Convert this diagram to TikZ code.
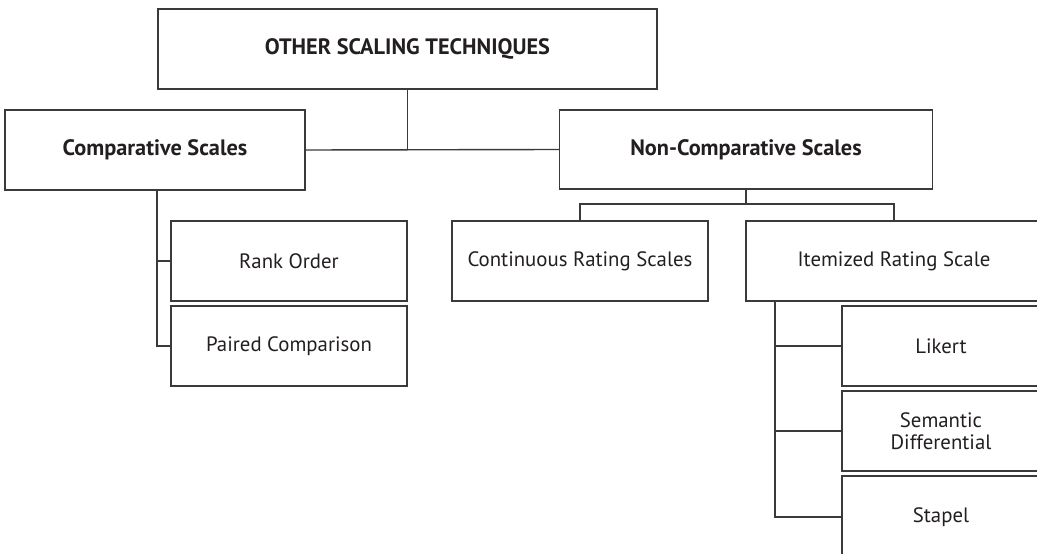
\documentclass[tikz,border=0pt]{standalone}
\usepackage{fontspec}
\setmainfont{PT Sans}
\definecolor{ink}{HTML}{231F20}
\definecolor{edge}{HTML}{3A3A3A}
\begin{document}
\begin{tikzpicture}[x=1pt,y=-1pt,
  box/.style={draw=edge, line width=1.4pt, rectangle, inner sep=0pt, text=ink,
    font=\fontsize{20.8}{22}\selectfont, align=center, minimum height=80pt},
  bbox/.style={box, font=\fontsize{22.3}{24}\selectfont\bfseries},
  link/.style={draw=edge, line width=1.4pt}]
\useasboundingbox (0,0) rectangle (1037,554);
\node[bbox, minimum width=499pt] (top) at (407.5,49) {OTHER SCALING TECHNIQUES};
\node[bbox, minimum width=300pt] (comp) at (155,150) {Comparative Scales};
\node[bbox, minimum width=373pt, minimum height=79pt] (noncomp) at (746,149.5) {Non-Comparative Scales};
\node[box, minimum width=236pt] (rank) at (289,261) {Rank Order};
\node[box, minimum width=236pt] (paired) at (289,346) {Paired Comparison};
\node[box, minimum width=256pt] (cont) at (580,261) {Continuous Rating Scales};
\node[box, minimum width=296pt] (item) at (894,261) {Itemized Rating Scale};
\node[box, minimum width=198pt] (likert) at (941,346) {Likert};
\node[box, minimum width=198pt] (sem) at (941,431) {Semantic\\Differential};
\node[box, minimum width=198pt, minimum height=82pt] (stapel) at (941,517) {Stapel};
\coordinate (bar) at (0,204);
\coordinate (iv) at (775,301);
\coordinate (cv) at (157,190);
\draw[link] (top.south) -- (top.south |- comp.east);
\draw[link] (comp.east) -- (noncomp.west);
\draw[link] (cv) |- (rank.west);
\draw[link] (cv) |- (paired.west);
\draw[link] (noncomp.south) -- (noncomp.south |- bar);
\draw[link] (cont.north) -- (cont.north |- bar) -- (item.north |- bar) -- (item.north);
\draw[link] (iv) |- (likert.west);
\draw[link] (iv) |- (sem.west);
\draw[link] (iv) |- (stapel.west);
\end{tikzpicture}
\end{document}
